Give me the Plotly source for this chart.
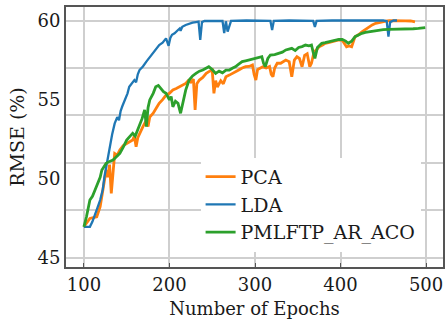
import plotly.graph_objects as go

# ---- data ----
pca_x = [100,104,107,111,115,119,122,124,126,128,130,132,134,136,139,142,146,150,154,157,
         159,161,163,165,169,173,175,177,181,185,188,192,196,200,204,208,212,216,219,222,
         225,228,230,232,235,239,243,247,250,252,254,256,260,263,266,270,274,278,281,285,
         289,293,297,299,301,303,306,309,313,317,319,321,323,326,330,333,336,340,343,346,
         349,352,355,358,361,364,366,369,372,375,379,382,386,390,394,398,402,405,407,410,
         413,417,421,425,429,433,437,441,445,449,453,457,463,470,476,482,487]
pca_y = [46.97,47.3,47.5,47.55,47.6,48.24,49.3,49.9,50.56,50.1,50.9,49.08,50.6,51.6,51.5,51.82,52.1,52.24,52.4,52.45,
         52.7,52.03,52.6,52.87,53.3,53.71,53.3,53.9,54.14,54.5,54.77,55.0,55.29,55.4,55.61,55.7,55.82,55.9,56.03,56.2,
         56.1,56.3,54.35,56.0,56.24,56.4,56.66,56.8,56.87,55.4,56.2,55.8,56.2,56.0,56.45,56.55,56.66,56.75,56.87,57.0,
         57.08,57.1,57.19,56.6,56.24,56.9,57.0,57.08,57.0,57.1,56.6,56.45,57.0,57.3,57.3,57.4,57.5,57.4,56.45,57.5,
         57.71,57.6,57.08,57.8,57.9,57.08,57.3,58.0,58.2,58.34,58.45,58.56,58.6,58.66,58.7,58.77,58.75,58.5,58.34,58.4,
         58.34,58.98,59.1,59.29,59.45,59.61,59.72,59.82,59.88,59.92,59.96,59.99,60.0,60.0,59.98,59.97,59.92]

lda_x = [100,107,110,113,116,119,122,124,127,130,133,136,139,141,143,145,148,151,153,156,
         159,161,163,165,169,173,177,181,184,188,192,196,199,201,203,206,210,212,213,215,
         219,223,227,231,234,236,238,241,245,255,262,264,266,268,272,290,310,318,320,322,
         340,360,368,370,372,390,410,430,450,454,456,458,462,466]
lda_y = [46.97,46.97,47.3,47.82,48.2,48.66,49.3,50.13,51.1,52.03,52.8,53.5,53.9,53.7,54.3,54.6,54.98,55.4,55.82,56.0,
         56.24,56.1,56.6,56.87,57.1,57.4,57.7,57.93,58.2,58.45,58.6,58.87,58.4,58.9,59.1,59.19,59.4,59.5,59.35,59.6,
         59.72,59.8,59.86,59.9,59.93,58.77,59.9,59.97,59.98,60,59.98,59.2,59.95,59.3,59.98,60,60,59.98,59.4,59.98,
         60,60,59.98,59.6,59.98,60,60,60,60,59.95,58.98,59.9,60,60]

aco_x = [100,103,107,110,113,115,117,119,121,124,126,130,134,138,142,146,150,154,157,160,
         163,165,168,171,173,175,177,181,184,187,190,193,196,200,202,204,207,210,213,216,
         219,223,227,231,235,239,243,246,250,254,258,262,266,270,274,277,281,285,289,293,
         297,301,305,308,310,312,315,318,323,328,332,336,340,343,347,351,355,359,363,366,
         368,370,373,378,382,386,390,394,398,402,406,409,413,417,421,425,429,433,439,444,
         450,456,462,467,473,479,485,491,495,499]
aco_y = [46.97,47.6,48.66,48.9,49.29,49.6,49.92,50.1,50.56,50.8,50.98,51.1,51.19,51.4,51.61,52.0,52.45,52.7,52.87,52.7,
         53.1,53.29,53.8,54.35,53.29,54.5,54.98,55.4,55.82,55.9,55.7,55.5,55.4,54.98,55.2,54.55,54.9,54.77,54.14,54.9,
         55.6,56.24,56.5,56.66,56.8,56.87,57.0,57.08,56.9,56.66,56.8,56.7,56.87,56.87,57.0,57.08,57.25,57.4,57.45,57.5,
         57.55,57.61,57.65,57.71,57.3,57.08,57.6,57.82,57.85,57.92,58.0,58.14,58.2,58.24,58.1,58.3,58.35,58.45,58.4,58.45,
         58.0,57.61,58.3,58.56,58.6,58.66,58.7,58.77,58.8,58.81,58.7,58.56,58.7,58.98,59.1,59.19,59.25,59.29,59.35,59.4,
         59.42,59.44,59.44,59.44,59.45,59.46,59.48,59.5,59.52,59.55]

series = [
    ("PCA", pca_x, pca_y, "#ff7f0e", 2.8),
    ("LDA", lda_x, lda_y, "#1f77b4", 2.3),
    ("PMLFTP_AR_ACO", aco_x, aco_y, "#2ca02c", 2.8),
]

x_ticks = [100, 200, 300, 400, 500]
y_ticks = [45, 50, 55, 60]
y_grid = [45, 48, 51, 54, 57, 60]

fig = go.Figure()
for name, xs, ys, color, w in series:
    fig.add_trace(go.Scatter(x=xs, y=ys, mode="lines", name=name,
                             line=dict(color=color, width=w)))

SERIF = "DejaVu Serif"
grid_c = "#cfcfcf"
axis_c = "#555555"
fig.update_layout(
    width=446, height=324,
    margin=dict(l=66, r=1, t=7, b=57),
    plot_bgcolor="white", paper_bgcolor="white",
    font=dict(family=SERIF, size=18, color="#1a1a1a"),
    showlegend=True,
    legend=dict(x=0.357, y=0.42, xanchor="left", yanchor="top",
                bgcolor="white", font=dict(size=19, family=SERIF),
                itemwidth=30, tracegroupgap=0),
    xaxis=dict(range=[79.07, 519.77], tickvals=x_ticks, showgrid=True,
               gridcolor=grid_c, gridwidth=2, zeroline=False,
               showline=True, linecolor=axis_c, linewidth=2, mirror=True,
               ticks="inside", ticklen=4, tickcolor=axis_c,
               tickfont=dict(family=SERIF, size=18),
               title=dict(text="Number of Epochs", font=dict(size=18, family=SERIF), standoff=9)),
    yaxis=dict(range=[44.43, 60.853], tickvals=y_ticks, showgrid=False, zeroline=False,
               minor=dict(tickvals=y_grid, showgrid=True, gridcolor=grid_c, gridwidth=2),
               showline=True, linecolor=axis_c, linewidth=2, mirror=True,
               tickfont=dict(family=SERIF, size=18),
               title=dict(text="RMSE (%)", font=dict(size=19, family=SERIF), standoff=8)),
)

fig.write_html("out.html")
